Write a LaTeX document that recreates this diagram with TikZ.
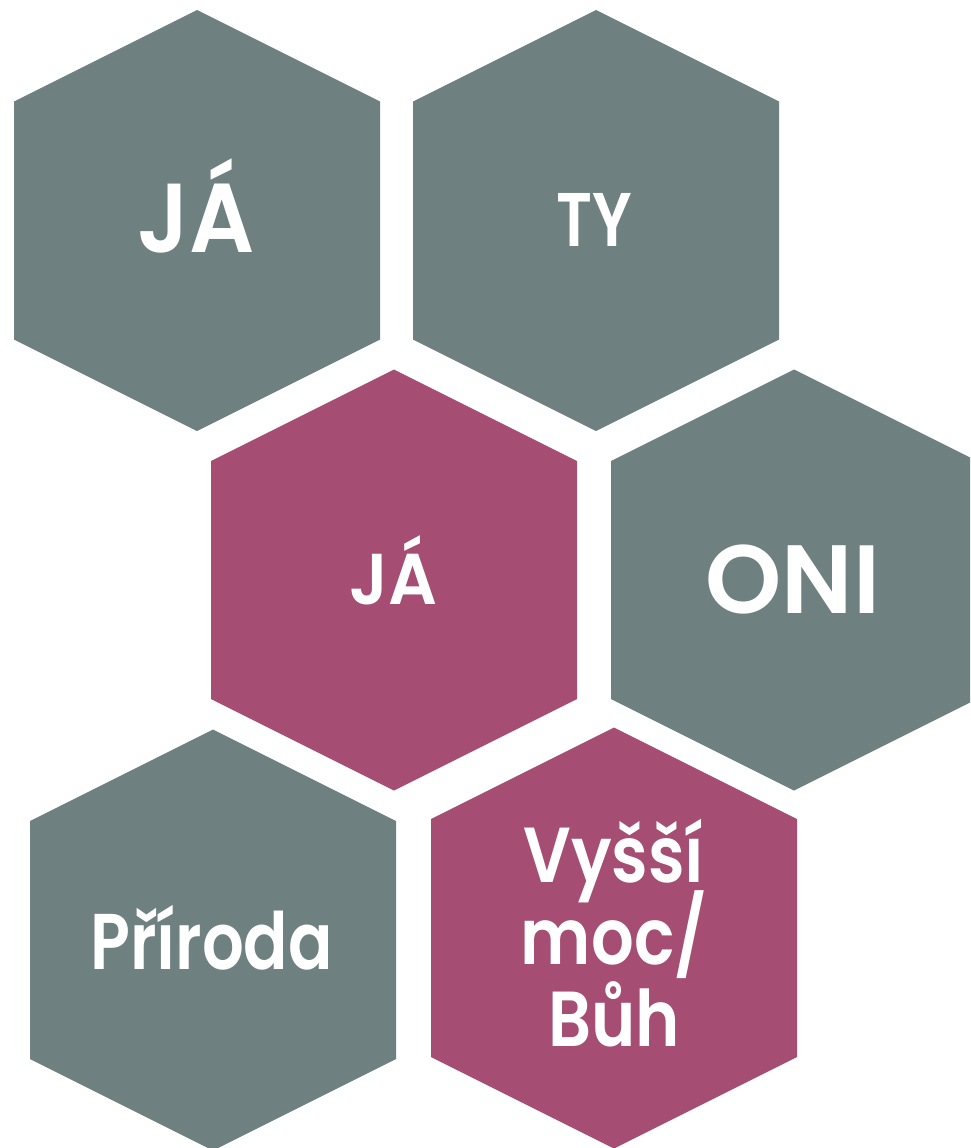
\documentclass[tikz,border=0pt]{standalone}
\usepackage{fontspec}
\setmainfont{Poppins}[UprightFont=* SemiBold, BoldFont=* SemiBold]
\definecolor{hexgray}{RGB}{111,128,129}
\definecolor{hexpink}{RGB}{166,77,115}
\newcommand{\hexfont}[3]{\fontsize{#1}{#2}\selectfont\addfontfeature{FakeStretch=#3}\lineskiplimit=-500pt\relax}
\tikzset{
  hexa/.pic={\fill (0,-210.5) -- (183,-119) -- (183,119) -- (0,210.5) -- (-183,119) -- (-183,-119) -- cycle;},
  lbl/.style={text=white, inner sep=0pt, anchor=base},
}
\begin{document}
\begin{tikzpicture}[x=1pt,y=-1pt]
\useasboundingbox (0,0) rectangle (970,1148);
\clip (0,0) rectangle (970,1148);
\fill[white] (0,0) rectangle (970,1148);
\pic[hexgray] at (197,220.5) {hexa};
\pic[hexgray] at (596,220.5) {hexa};
\pic[hexpink] at (394,580) {hexa};
\pic[hexgray] at (794,580) {hexa};
\pic[hexgray] at (213,940) {hexa};
\pic[hexpink] at (614,938) {hexa};
\node[lbl, font=\hexfont{98}{98}{0.93}] (ja1) at (196.5,252) {JÁ};
\node[lbl, font=\hexfont{76}{76}{0.82}] (ty) at (594.5,246) {TY};
\node[lbl, font=\hexfont{72}{72}{0.95}] (ja2) at (393.5,604) {JÁ};
\node[lbl, font=\hexfont{97}{97}{1.0}] (oni) at (793,613) {ONI};
\node[lbl, font=\hexfont{79}{79}{0.83}] (priroda) at (211.5,969) {Příroda};
\node[lbl, align=center, font=\hexfont{78}{82}{0.86}] (vyssi) at (614,1046) {Vyšší\\moc/\\Bůh};
\end{tikzpicture}
\end{document}
